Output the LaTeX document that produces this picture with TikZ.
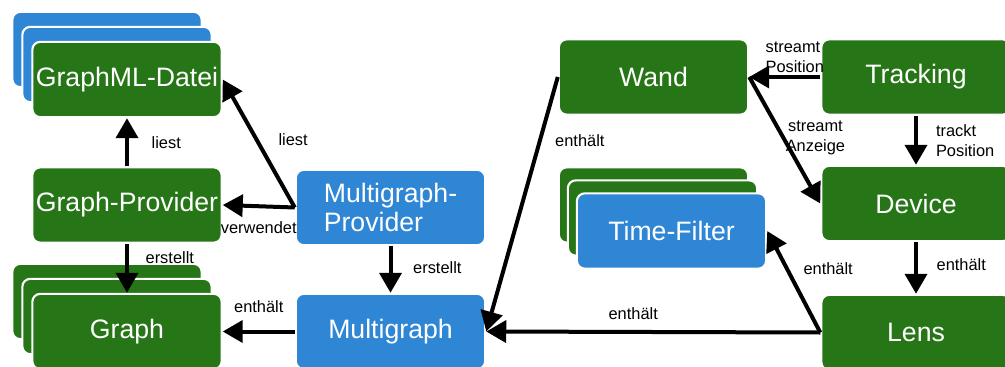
\documentclass[tikz,border=0pt]{standalone}
\usepackage{fontspec}
\setmainfont{Liberation Sans}
\usetikzlibrary{arrows.meta}
\definecolor{boxgreen}{RGB}{38,117,22}
\definecolor{boxblue}{RGB}{46,134,212}
\tikzset{
  box/.style={rectangle, rounded corners=6pt, draw=white, line width=1.6pt,
    minimum width=142pt, minimum height=56.5pt, inner sep=2pt, align=center,
    text=white, font=\fontsize{20}{22}\selectfont},
  gbox/.style={box, fill=boxgreen},
  bbox/.style={box, fill=boxblue},
  arr/.style={line width=3pt, -{Triangle[length=15pt,width=16.5pt]}},
  lbl/.style={inner sep=0pt, text=black, font=\fontsize{12.3}{15}\selectfont}
}
\begin{document}
\begin{tikzpicture}[x=0.75pt,y=-0.75pt]
      \useasboundingbox (0,0) rectangle (1005,367);
      \clip (0,0) rectangle (1005,367);
      % left part: graph files and providers
      \node[bbox] (gml_b2) at (107, 49.5) {};
      \node[bbox] (gml_b1) at (117, 64.5) {};
      \node[gbox] (gml) at (127, 79.5) {GraphML-Datei};
      \node[gbox] (gprov) at (127, 205) {Graph-Provider};
      \node[gbox] (graph_b2) at (107, 301.5) {};
      \node[gbox] (graph_b1) at (117, 316.5) {};
      \node[gbox] (graph) at (127, 331.5) {Graph};
      % multigraph
      \node[bbox, align=left] (mprov) at (390.5, 207.5) {Multigraph-\\Provider};
      \node[bbox] (multi) at (390.5, 331.5) {Multigraph};
      % right part: tracking and lens
      \node[gbox] (wand) at (653.5, 77) {Wand};
      \node[gbox] (track) at (916, 77) {Tracking};
      \node[gbox] (dev) at (916, 203.5) {Device};
      \node[gbox] (lens) at (916, 332.5) {Lens};
      \node[gbox] (tf_b2) at (653.5, 205) {};
      \node[gbox] (tf_b1) at (662.5, 218) {};
      \node[bbox] (tf) at (671.5, 231) {Time-Filter};
      % arrows left
      \draw[arr] (gprov.north) -- node[lbl, anchor=west, xshift=17pt]{liest} (gml.south);
      \draw[arr] (mprov.west) -- node[lbl, pos=0.53, anchor=west, xshift=15pt]{liest} (gml.east);
      \draw[arr] (mprov.west) -- node[lbl, below=10pt]{verwendet} (gprov.east);
      \draw[arr] (gprov.south) -- node[lbl, pos=0.29, anchor=west, xshift=12.5pt]{erstellt} (graph.north);
      \draw[arr] (multi.west) -- node[lbl, above=13pt]{enthält} (graph.east);
      \draw[arr] (mprov.south) -- node[lbl, pos=0.45, anchor=west, xshift=15.5pt]{erstellt} (multi.north);
      % arrows right
      \draw[arr] (wand.west) -- node[lbl, pos=0.25, anchor=west, xshift=10pt]{enthält} (multi.east);
      \draw[arr] (lens.west) -- node[lbl, pos=0.56, above=7.5pt]{enthält} (multi.east);
      \draw[arr] (track.west) -- node[lbl, align=left, above=2pt, xshift=7.5pt]{streamt\\Position} (wand.east);
      \draw[arr] (wand.east) -- node[lbl, align=center, xshift=23pt, yshift=2pt]{streamt\\Anzeige} (dev.west);
      \draw[arr] (track.south) -- node[lbl, align=left, anchor=west, xshift=13.5pt]{trackt\\Position} (dev.north);
      \draw[arr] (dev.south) -- node[lbl, pos=0.44, anchor=west, xshift=14pt]{enthält} (lens.north);
      \draw[arr] (lens.west) -- node[lbl, pos=0.63, anchor=west, xshift=11pt]{enthält} (tf.east);
\end{tikzpicture}
\end{document}
